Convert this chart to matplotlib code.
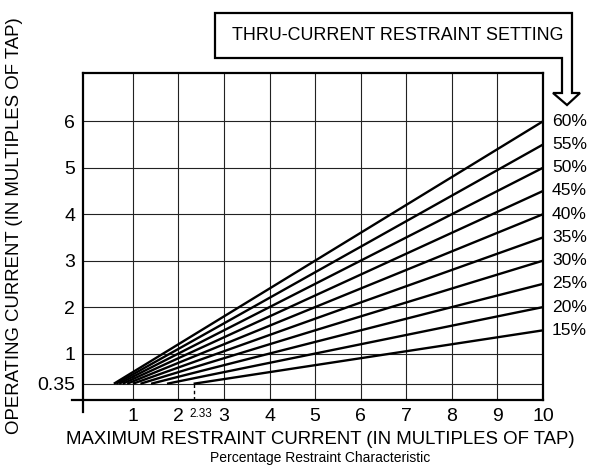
import numpy as np
import matplotlib.pyplot as plt
from matplotlib.patches import Polygon

# Thru-current restraint settings (percent) and the minimum pickup
settings = [15, 20, 25, 30, 35, 40, 45, 50, 55, 60]
min_pickup = 0.35
max_restraint = 10
x_ticks = [1, 2, 3, 4, 5, 6, 7, 8, 9, 10]
y_ticks = [0.35, 1, 2, 3, 4, 5, 6]

plt.rcParams['font.family'] = ['Liberation Sans', 'DejaVu Sans']

W, H = 591, 466
fig = plt.figure(figsize=(W / 100, H / 100), dpi=100)
ax = fig.add_axes([82.7 / W, 66 / H, (543 - 82.7) / W, (400 - 73) / H])
ax.set_xlim(-0.1, 10)
ax.set_ylim(0, 7.04)

for s in ax.spines.values():
    s.set_visible(False)

# grid
for xt in x_ticks[:-1]:
    ax.axvline(xt, color='#222222', lw=0.8, zorder=1)
for yt in y_ticks:
    ax.axhline(yt, color='#222222', lw=0.8, zorder=1)

# frame (left and bottom overhang a little)
ax.plot([-0.34, 10], [0, 0], color='black', lw=1.6, clip_on=False, zorder=3)
ax.plot([-0.1, -0.1], [-0.25, 7.04], color='black', lw=1.6, clip_on=False, zorder=3)
ax.plot([-0.1, 10], [7.04, 7.04], color='black', lw=1.6, clip_on=False, zorder=3)
ax.plot([10, 10], [0, 7.04], color='black', lw=1.6, clip_on=False, zorder=3)

# restraint lines: operate = slope * restraint, starting at minimum pickup
for p in settings:
    k = p / 100
    x = np.array([min_pickup / k, max_restraint])
    ax.plot(x, k * x, color='black', lw=1.7, solid_capstyle='butt', zorder=2)
    ax.text(10.2, k * max_restraint, f"{p}%", fontsize=12.6, va='center', ha='left',
            clip_on=False)

x15 = min_pickup / 0.15
ax.plot([x15, x15], [0, min_pickup], color='black', lw=1.0, ls=(0, (2.5, 2)), zorder=2)

ax.set_xticks(x_ticks)
ax.set_yticks(y_ticks)
ax.set_yticklabels(['0.35'] + [str(v) for v in y_ticks[1:]])
ax.tick_params(length=0, labelsize=14, pad=5.5)
ax.text(2.5, -0.17, f"{x15:.2f}", fontsize=8.5, ha='center', va='top')

fig.text(320 / W, 1 - 439 / H, "MAXIMUM RESTRAINT CURRENT (IN MULTIPLES OF TAP)",
         fontsize=13.4, ha='center', va='center')
fig.text(15 / W, 1 - 226 / H, "OPERATING CURRENT (IN MULTIPLES OF TAP)",
         fontsize=13.4, ha='center', va='center', rotation=90)
fig.text(320 / W, 1 - 465 / H, "Percentage Restraint Characteristic",
         fontsize=10, ha='center', va='bottom')

# callout box with arrow pointing at the setting labels
pts = [(215, 13), (572, 13), (572, 93), (580, 93), (567, 105), (553, 93),
       (562, 93), (562, 58), (215, 58)]
box = Polygon([(px / W, 1 - py / H) for px, py in pts], closed=True,
              transform=fig.transFigure, facecolor='white', edgecolor='black', lw=1.6)
fig.patches.append(box)
fig.text(397.5 / W, 1 - 35 / H, "THRU-CURRENT RESTRAINT SETTING", fontsize=12.9,
         ha='center', va='center')

fig.savefig('out.png', dpi=100)
